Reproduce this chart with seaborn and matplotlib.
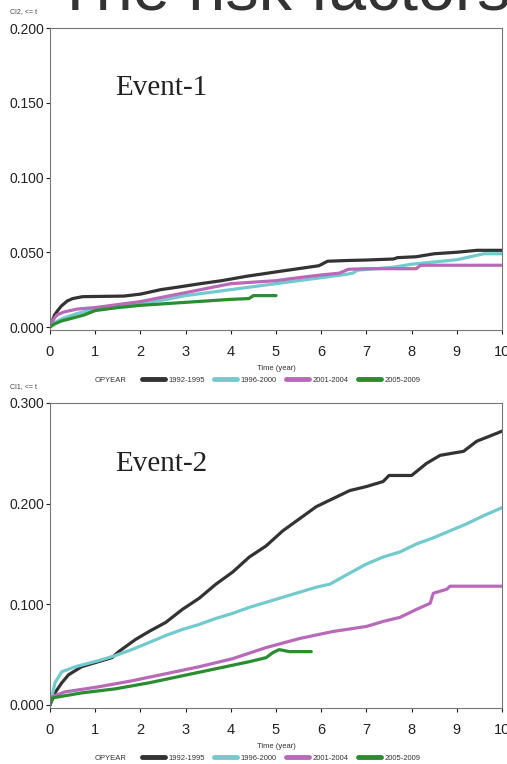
import pandas as pd
import matplotlib
matplotlib.use("Agg")
import matplotlib.pyplot as plt
import seaborn as sns

sns.set_style("white")
plt.rcParams['font.family'] = ['Liberation Sans', 'DejaVu Sans']

groups = ['1992-1995', '1996-2000', '2001-2004', '2005-2009']
colors = {'1992-1995': '#333333', '1996-2000': '#72cacd',
          '2001-2004': '#b86ab8', '2005-2009': '#2b8c32'}

# Event-1 (CI2)
e1_black_t = [0, 0.05, 0.1, 0.17, 0.25, 0.38, 0.5, 0.72, 1.64, 2.0, 2.45, 2.9, 3.33, 3.8, 4.36, 4.7, 5.03, 5.4, 5.95, 6.14, 6.6, 7.0, 7.6, 7.69, 8.1, 8.5, 9.0, 9.45, 10.0]
e1_black_v = [0, 0.004, 0.008, 0.011, 0.014, 0.0174, 0.019, 0.0203, 0.0207, 0.022, 0.025, 0.027, 0.029, 0.031, 0.034, 0.0355, 0.037, 0.0386, 0.041, 0.044, 0.0445, 0.0448, 0.0455, 0.0464, 0.047, 0.049, 0.05, 0.0513, 0.0513]
e1_cyan_t = [0, 0.1, 0.3, 0.6, 1.0, 1.5, 2.0, 2.5, 3.0, 3.5, 4.0, 4.5, 5.0, 5.5, 6.0, 6.5, 6.7, 6.8, 7.2, 7.6, 8.0, 8.5, 9.0, 9.3, 9.6, 10.0]
e1_cyan_v = [0, 0.003, 0.006, 0.009, 0.012, 0.014, 0.016, 0.018, 0.021, 0.023, 0.025, 0.027, 0.029, 0.031, 0.033, 0.035, 0.036, 0.038, 0.039, 0.040, 0.042, 0.0435, 0.045, 0.047, 0.049, 0.049]
e1_mag_t = [0, 0.05, 0.15, 0.3, 0.6, 1.0, 1.5, 2.0, 2.5, 3.0, 3.5, 4.0, 4.5, 5.0, 5.5, 6.0, 6.4, 6.6, 7.0, 7.5, 8.1, 8.2, 10.0]
e1_mag_v = [0, 0.004, 0.008, 0.010, 0.012, 0.013, 0.015, 0.017, 0.020, 0.023, 0.026, 0.029, 0.030, 0.031, 0.033, 0.0348, 0.036, 0.0386, 0.039, 0.039, 0.039, 0.0413, 0.0413]
e1_green_t = [0, 0.1, 0.25, 0.5, 0.75, 1.0, 1.5, 2.0, 2.5, 3.0, 3.5, 4.0, 4.4, 4.5, 5.0]
e1_green_v = [0, 0.002, 0.004, 0.006, 0.008, 0.011, 0.013, 0.0145, 0.0155, 0.0165, 0.0175, 0.0185, 0.019, 0.021, 0.021]

# Event-2 (CI1)
e2_black_t = [0, 0.11, 0.26, 0.41, 0.70, 1.07, 1.37, 1.52, 1.89, 2.19, 2.56, 2.93, 3.30, 3.67, 4.04, 4.41, 4.78, 5.15, 5.52, 5.89, 6.26, 6.63, 7.0, 7.37, 7.5, 8.0, 8.33, 8.63, 9.15, 9.44, 9.89, 10.0]
e2_black_v = [0, 0.012, 0.022, 0.030, 0.038, 0.043, 0.047, 0.053, 0.065, 0.073, 0.082, 0.095, 0.106, 0.120, 0.132, 0.147, 0.158, 0.173, 0.185, 0.197, 0.205, 0.213, 0.217, 0.222, 0.228, 0.228, 0.240, 0.248, 0.252, 0.262, 0.270, 0.272]
e2_cyan_t = [0, 0.11, 0.26, 0.56, 1.07, 1.44, 1.81, 2.19, 2.56, 2.93, 3.30, 3.67, 4.04, 4.41, 4.78, 5.15, 5.52, 5.89, 6.19, 6.63, 7.0, 7.37, 7.74, 8.11, 8.48, 8.85, 9.22, 9.59, 10.0]
e2_cyan_v = [0, 0.022, 0.033, 0.038, 0.044, 0.049, 0.055, 0.062, 0.069, 0.075, 0.080, 0.086, 0.091, 0.097, 0.102, 0.107, 0.112, 0.117, 0.120, 0.131, 0.140, 0.147, 0.152, 0.160, 0.166, 0.173, 0.180, 0.188, 0.196]
e2_mag_t = [0, 0.04, 0.33, 1.07, 1.81, 2.56, 3.30, 4.04, 4.78, 5.52, 6.26, 7.0, 7.37, 7.74, 8.11, 8.41, 8.48, 8.78, 8.85, 10.0]
e2_mag_v = [0, 0.008, 0.013, 0.018, 0.024, 0.031, 0.038, 0.046, 0.057, 0.066, 0.073, 0.078, 0.083, 0.087, 0.095, 0.101, 0.111, 0.115, 0.118, 0.118]
e2_green_t = [0, 0.05, 0.70, 1.44, 2.19, 2.93, 3.67, 4.41, 4.78, 4.93, 5.07, 5.30, 5.78]
e2_green_v = [0, 0.007, 0.012, 0.016, 0.022, 0.029, 0.036, 0.043, 0.047, 0.052, 0.055, 0.053, 0.053]

x_ticks = list(range(0, 11))
y1_ticks = [0.0, 0.05, 0.10, 0.15, 0.20]
y1_labels = ['0.000', '0.050', '0.100', '0.150', '0.200']
y2_ticks = [0.0, 0.10, 0.20, 0.30]
y2_labels = ['0.000', '0.100', '0.200', '0.300']


def long_df(series):
    rows = []
    for g, (t, v) in zip(groups, series):
        rows.append(pd.DataFrame({'time': t, 'ci': v, 'OPYEAR': g}))
    return pd.concat(rows, ignore_index=True)


df1 = long_df([(e1_black_t, e1_black_v), (e1_cyan_t, e1_cyan_v),
               (e1_mag_t, e1_mag_v), (e1_green_t, e1_green_v)])
df2 = long_df([(e2_black_t, e2_black_v), (e2_cyan_t, e2_cyan_v),
               (e2_mag_t, e2_mag_v), (e2_green_t, e2_green_v)])

W, H = 507, 764
fig = plt.figure(figsize=(W / 100, H / 100), dpi=100)
ax1 = fig.add_axes([50 / W, 1 - 330 / H, 452 / W, 302 / H])
ax2 = fig.add_axes([50 / W, 1 - 708 / H, 452 / W, 305 / H])

panels = [(ax1, df1, (-0.002, 0.2), y1_ticks, y1_labels, 'CI2, <= t', 'Event-1', 330),
          (ax2, df2, (-0.003, 0.3), y2_ticks, y2_labels, 'CI1, <= t', 'Event-2', 708)]

for ax, df, ylim, yt, yl, ylab, ev, bot in panels:
    sns.lineplot(data=df, x='time', y='ci', hue='OPYEAR', palette=colors,
                 hue_order=groups, estimator=None, linewidth=2.3, ax=ax,
                 legend=True)
    handles, labels = ax.get_legend_handles_labels()
    ax.get_legend().remove()
    ax.set_xlim(0, 10)
    ax.set_ylim(*ylim)
    ax.set_xticks(x_ticks)
    ax.set_yticks(yt)
    ax.set_yticklabels(yl)
    ax.set_xlabel('')
    ax.set_ylabel('')
    ax.tick_params(axis='x', labelsize=10.5, length=3, direction='out',
                   pad=8, colors='#222222', bottom=True)
    ax.tick_params(axis='y', labelsize=10, length=3, direction='out',
                   pad=1, colors='#222222', left=True)
    for s in ax.spines.values():
        s.set_color('#777777')
        s.set_linewidth(0.8)
    ax.text(0.145, 0.8, ev, transform=ax.transAxes, fontsize=21,
            family='Liberation Serif', color='#222222', va='center')
    # y label in the top-left corner, time label and legend under the axes
    top_px = H - (ax.get_position().y1 * H)
    fig.text(10 / W, 1 - (top_px - 16) / H, ylab, fontsize=5, color='#444444', va='center')
    fig.text(276 / W, 1 - (bot + 38) / H, 'Time (year)', fontsize=5.5,
             color='#333333', ha='center', va='center')
    fig.text(95 / W, 1 - (bot + 50) / H, 'OPYEAR', fontsize=5.5,
             color='#333333', va='center')
    leg = fig.legend(handles, labels, loc='center left',
                     bbox_to_anchor=(142 / W, 1 - (bot + 50) / H), ncol=4,
                     frameon=False, fontsize=5.5, handlelength=3.0,
                     handletextpad=0.4, columnspacing=1.3, borderpad=0,
                     borderaxespad=0)
    for h in leg.get_lines():
        h.set_linewidth(3.5)
    for t in leg.get_texts():
        t.set_color('#333333')

fig.text(55 / W, 1 - 9 / H, 'The risk factors', fontsize=48, color='#333333',
         va='baseline', ha='left')

fig.savefig('out.png', dpi=100)
